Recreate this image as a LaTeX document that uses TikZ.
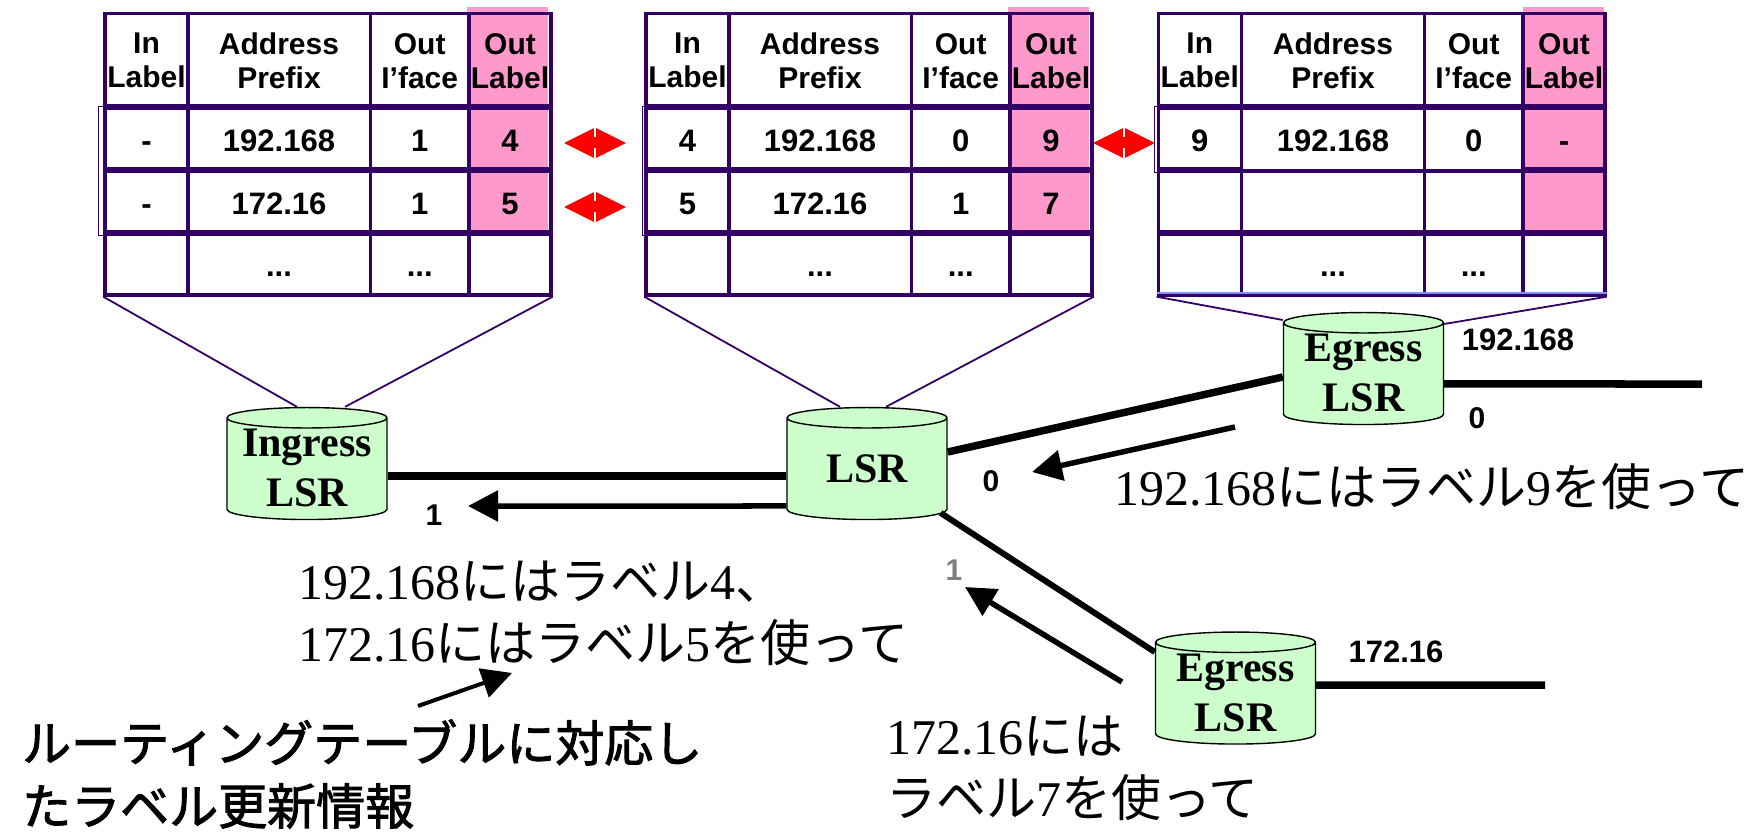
\documentclass[tikz,border=0pt]{standalone}
\usepackage{fontspec}
\setmainfont{Liberation Sans}
\newfontfamily\timesfont{Liberation Serif}
\newfontfamily\jpfont{Noto Sans CJK JP}
\newfontfamily\jpheavy[FakeBold=2]{Noto Sans CJK JP}
\newcommand{\jp}[1]{{\jpfont #1}}
\usetikzlibrary{shapes.geometric,arrows.meta}
\definecolor{tableline}{HTML}{330066}
\definecolor{outpink}{HTML}{FF99CC}
\definecolor{lsrgreen}{HTML}{CCFFCC}
\begin{document}
\begin{tikzpicture}[x=1pt,y=-1pt]
	\tikzstyle{cell}=[draw=tableline,line width=3.4pt,inner sep=0pt,font=\bfseries\fontsize{31}{34}\selectfont,align=center,text height=25pt,text depth=0pt]
	\tikzstyle{head}=[draw=tableline,line width=3.4pt,inner sep=0pt,font=\bfseries\fontsize{30}{34}\selectfont,align=center,minimum height=94.5pt]
	\tikzstyle{cola}=[minimum width=83pt]
	\tikzstyle{colb}=[minimum width=183pt]
	\tikzstyle{colc}=[minimum width=98.5pt]
	\tikzstyle{cold}=[minimum width=82pt]
	\tikzstyle{rowm}=[minimum height=63pt]
	\tikzstyle{rowl}=[minimum height=61pt]
	\tikzstyle{pinkcol}=[fill=outpink,inner sep=0pt,minimum width=81pt,minimum height=226.5pt]
	\tikzstyle{rowline}=[draw=tableline,line width=5pt]
	\tikzstyle{rowbox}=[draw=tableline,line width=1.2pt]
	\tikzstyle{fan}=[draw=tableline,line width=1.8pt]
	\tikzstyle{lsr}=[cylinder,shape border rotate=90,draw=black,line width=1.4pt,fill=lsrgreen,inner sep=0pt,aspect=0.25,minimum width=160pt,minimum height=112pt,font=\timesfont\bfseries\fontsize{42}{50}\selectfont]
	\tikzstyle{lsrtext}=[inner sep=0pt,font=\timesfont\bfseries\fontsize{42}{50}\selectfont,align=center]
	\tikzstyle{swapmark}=[diamond,fill=red,inner sep=0pt,minimum width=62pt,minimum height=31pt]
	\tikzstyle{swapcut}=[white,line width=1.5pt,dash pattern=on 10pt off 11pt]
	\tikzstyle{num}=[font=\bfseries\fontsize{30}{30}\selectfont,inner sep=0pt]
	\tikzstyle{preftext}=[font=\bfseries\fontsize{31}{34}\selectfont,inner sep=0pt]
	\tikzstyle{msg}=[font=\timesfont\fontsize{50}{62}\selectfont,align=left,anchor=west,inner sep=0pt]
	\tikzstyle{note}=[font=\jpheavy\fontsize{49}{63}\selectfont,align=left,anchor=west,inner sep=0pt]
	\tikzstyle{link}=[line width=7.5pt]
	\tikzstyle{arrow}=[line width=5.5pt,-{Triangle[length=30pt,width=30pt]}]

	\def \heady{60.7}
	\def \rowa{139.5}
	\def \rowb{202.5}
	\def \rowc{264.5}

	\useasboundingbox (0,0) rectangle (1764,834);

	\node[pinkcol] (pink1) at (507.5,120.7) {};
	\node[pinkcol] (pink2) at (1048.5,120.7) {};
	\node[pinkcol] (pink3) at (1563.5,120.7) {};

	% ingress table
	\node[head,cola] (t1h0) at (146.5,\heady) {In\\Label};
	\node[head,colb] (t1h1) at (279,\heady) {Address\\Prefix};
	\node[head,colc] (t1h2) at (419.7,\heady) {Out\\I’face};
	\node[head,cold] (t1h3) at (510,\heady) {Out\\Label};

	\node[cell,cola,rowm] (t1a0) at (146.5,\rowa) {-};
	\node[cell,colb,rowm] (t1a1) at (279,\rowa) {192.168};
	\node[cell,colc,rowm] (t1a2) at (419.7,\rowa) {1};
	\node[cell,cold,rowm] (t1a3) at (510,\rowa) {4};

	\node[cell,cola,rowm] (t1b0) at (146.5,\rowb) {-};
	\node[cell,colb,rowm] (t1b1) at (279,\rowb) {172.16};
	\node[cell,colc,rowm] (t1b2) at (419.7,\rowb) {1};
	\node[cell,cold,rowm] (t1b3) at (510,\rowb) {5};

	\node[cell,cola,rowl] (t1c0) at (146.5,\rowc) {};
	\node[cell,colb,rowl] (t1c1) at (279,\rowc) {...};
	\node[cell,colc,rowl] (t1c2) at (419.7,\rowc) {...};
	\node[cell,cold,rowl] (t1c3) at (510,\rowc) {};

	% middle table
	\node[head,cola] (t2h0) at (687.5,\heady) {In\\Label};
	\node[head,colb] (t2h1) at (820,\heady) {Address\\Prefix};
	\node[head,colc] (t2h2) at (960.7,\heady) {Out\\I’face};
	\node[head,cold] (t2h3) at (1051,\heady) {Out\\Label};

	\node[cell,cola,rowm] (t2a0) at (687.5,\rowa) {4};
	\node[cell,colb,rowm] (t2a1) at (820,\rowa) {192.168};
	\node[cell,colc,rowm] (t2a2) at (960.7,\rowa) {0};
	\node[cell,cold,rowm] (t2a3) at (1051,\rowa) {9};

	\node[cell,cola,rowm] (t2b0) at (687.5,\rowb) {5};
	\node[cell,colb,rowm] (t2b1) at (820,\rowb) {172.16};
	\node[cell,colc,rowm] (t2b2) at (960.7,\rowb) {1};
	\node[cell,cold,rowm] (t2b3) at (1051,\rowb) {7};

	\node[cell,cola,rowl] (t2c0) at (687.5,\rowc) {};
	\node[cell,colb,rowl] (t2c1) at (820,\rowc) {...};
	\node[cell,colc,rowl] (t2c2) at (960.7,\rowc) {...};
	\node[cell,cold,rowl] (t2c3) at (1051,\rowc) {};

	% egress table
	\node[head,cola] (t3h0) at (1199.8,\heady) {In\\Label};
	\node[head,colb] (t3h1) at (1333,\heady) {Address\\Prefix};
	\node[head,colc] (t3h2) at (1473.7,\heady) {Out\\I’face};
	\node[head,cold] (t3h3) at (1564,\heady) {Out\\Label};

	\node[cell,cola,rowm] (t3a0) at (1199.8,\rowa) {9};
	\node[cell,colb,rowm] (t3a1) at (1333,\rowa) {192.168};
	\node[cell,colc,rowm] (t3a2) at (1473.7,\rowa) {0};
	\node[cell,cold,rowm] (t3a3) at (1564,\rowa) {-};

	\node[cell,cola,rowm] (t3b0) at (1199.8,\rowb) {};
	\node[cell,colb,rowm] (t3b1) at (1333,\rowb) {};
	\node[cell,colc,rowm] (t3b2) at (1473.7,\rowb) {};
	\node[cell,cold,rowm] (t3b3) at (1564,\rowb) {};

	\node[cell,cola,rowl] (t3c0) at (1199.8,\rowc) {};
	\node[cell,colb,rowl] (t3c1) at (1333,\rowc) {...};
	\node[cell,colc,rowl] (t3c2) at (1473.7,\rowc) {...};
	\node[cell,cold,rowl] (t3c3) at (1564,\rowc) {};

	% heavier row lines
	\draw[rowline] (t1a0.north west) -- (t1a3.north east);
	\draw[rowline] (t1b0.north west) -- (t1b3.north east);
	\draw[rowline] (t1c0.north west) -- (t1c3.north east);
	\draw[rowline] (t2a0.north west) -- (t2a3.north east);
	\draw[rowline] (t2b0.north west) -- (t2b3.north east);
	\draw[rowline] (t2c0.north west) -- (t2c3.north east);
	\draw[rowline] (t3a0.north west) -- (t3a3.north east);
	\draw[rowline] (t3b0.north west) -- (t3b0.north east);
	\draw[rowline] (t3b3.north west) -- (t3b3.north east);
	\draw[rowline] (t3c0.north west) -- (t3c3.north east);
	\draw[rowbox] ([xshift=-4.5pt]t1a0.north west) rectangle (t1b3.south east);
	\draw[rowbox] ([xshift=-2pt]t2a0.north west) rectangle (t2b3.south east);
	\draw[rowbox] ([xshift=-2pt]t3a0.north west) rectangle (t3a3.south east);
	\draw[draw=blue!45!white,line width=2pt] ([yshift=3.5pt]t3c0.south west) -- ([yshift=3.5pt]t3c3.south east);

	\node[lsr] (ingress) at (307,469) {\phantom{LSR}};
	\node[lsr] (core) at (867,469) {LSR};
	\node[lsr] (egressa) at (1363.5,374) {\phantom{LSR}};
	\node[lsr] (egressb) at (1235.5,693.5) {\phantom{LSR}};
	\node[lsrtext] (ingresstext) at (307,468) {Ingress\\LSR};
	\node[lsrtext] (egressatext) at (1363.5,373) {Egress\\LSR};
	\node[lsrtext] (egressbtext) at (1235.5,693) {Egress\\LSR};

	\draw[fan] (t1c0.south west) -- ([xshift=-10pt]ingress.north);
	\draw[fan] (t1c3.south east) -- ([xshift=38pt]ingress.north);
	\draw[fan] (t2c0.south west) -- ([xshift=-27pt]core.north);
	\draw[fan] (t2c3.south east) -- ([xshift=19pt]core.north);
	\draw[fan] (t3c0.south west) -- ([yshift=54pt]egressa.west);
	\draw[fan] (t3c3.south east) -- ([yshift=50pt]egressa.east);

	% label swaps
	\node[swapmark] (swapa) at (595,143) {};
	\node[swapmark] (swapb) at (595,207) {};
	\node[swapmark] (swapc) at (1124,143) {};
	\draw[swapcut] (swapa.north) -- (swapa.south);
	\draw[swapcut] (swapb.north) -- (swapb.south);
	\draw[swapcut] (swapc.north) -- (swapc.south);

	\coordinate (enda) at (1702,384);
	\coordinate (endb) at (1545,685);
	\draw[link] ([yshift=-7pt]ingress.east) -- ([yshift=-7pt]core.west);
	\draw[link] ([yshift=17pt]core.east) -- ([yshift=-3pt]egressa.west);
	\draw[link,line width=6pt] ([xshift=-7pt,yshift=-44pt]core.east) -- ([yshift=41.5pt]egressb.west);
	\draw[link] ([yshift=-10pt]egressa.east) -- (enda);
	\draw[link] ([yshift=8.5pt]egressb.east) -- (endb);

	\coordinate (tipa) at (468,506);
	\coordinate (taila) at (1235,427);
	\coordinate (tipb) at (1032,472);
	\coordinate (tailb) at (1122,682);
	\coordinate (tipc) at (965,587);
	\coordinate (tailc) at (418,706);
	\coordinate (tipd) at (512,673);
	\draw[arrow] ([yshift=-37pt]core.west) -- (tipa);
	\draw[arrow] (taila) -- (tipb);
	\draw[arrow] (tailb) -- (tipc);
	\draw[arrow,line width=4pt] (tailc) -- (tipd);

	\node[num] (porta) at (434,515) {1};
	\node[num] (portb) at (991,481) {0};
	\node[num,text=gray] (portc) at (954,570) {1};
	\node[num] (portd) at (1477,418) {0};
	\node[preftext] (prefa) at (1518,340) {192.168};
	\node[preftext] (prefb) at (1396,652) {172.16};

	\node[msg] (msga) at (298,613) {192.168\jp{にはラベル}4\jp{、}\\172.16\jp{にはラベル}5\jp{を使って}};
	\node[msg] (msgb) at (1114,487) {192.168\jp{にはラベル}9\jp{を使って}};
	\node[msg] (msgc) at (886,768) {172.16\jp{には}\\\jp{ラベル}7\jp{を使って}};
	\node[note] (notea) at (22,774) {ルーティングテーブルに対応し\\たラベル更新情報};
\end{tikzpicture}
\end{document}
